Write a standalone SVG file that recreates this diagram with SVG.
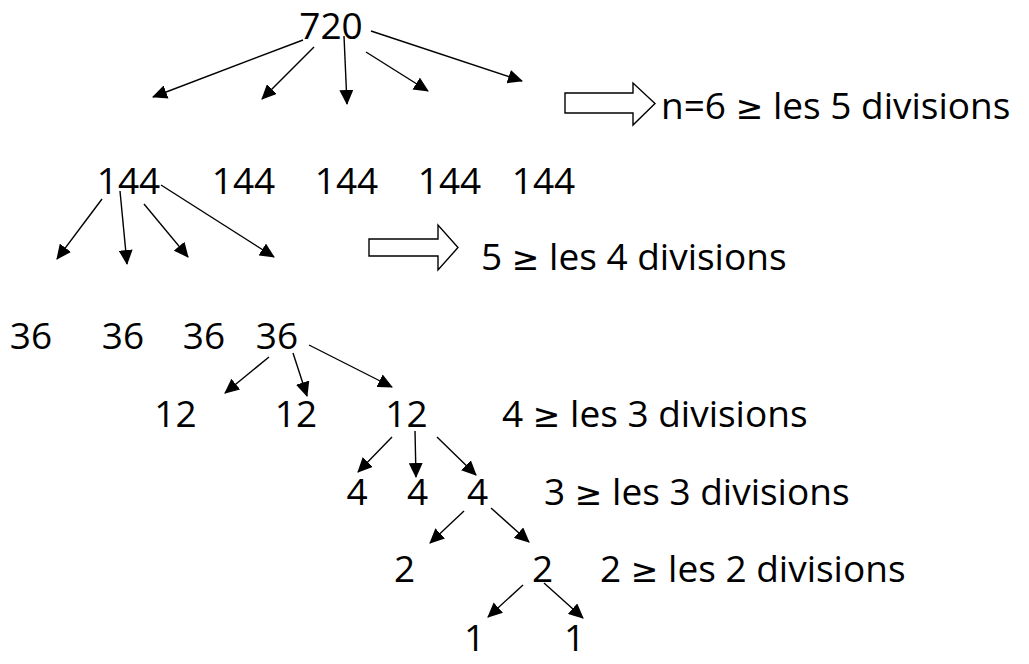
<svg xmlns="http://www.w3.org/2000/svg" width="1029" height="664" viewBox="0 0 1029 664">
<style>
text{font-family:"Open Sans","Noto Sans","Liberation Sans",sans-serif;font-size:37px;fill:#000}
.n{text-anchor:middle}
.ge{font-family:"DejaVu Sans","Noto Sans",sans-serif;font-size:33px}
.c line{stroke:#000;stroke-width:1.4;marker-end:url(#ah)}
.blk{fill:#fff;stroke:#000;stroke-width:1.4;stroke-linejoin:miter}
</style>
<defs>
<marker id="ah" markerUnits="userSpaceOnUse" markerWidth="15" markerHeight="14" refX="14" refY="7" orient="auto">
<path d="M0,0 L15,7 L0,14 z" fill="#000"/>
</marker>
</defs>
<rect width="1029" height="664" fill="#fff"/>
<g id="n720"><text class="n" x="331" y="39">720</text></g>
<g id="r144">
<text class="n" x="128.5" y="194">144</text>
<text class="n" x="243.5" y="194">144</text>
<text class="n" x="346.5" y="194">144</text>
<text class="n" x="449.5" y="194">144</text>
<text class="n" x="543.5" y="194">144</text>
</g>
<g id="r36">
<text class="n" x="31" y="349">36</text>
<text class="n" x="123" y="349">36</text>
<text class="n" x="204" y="349">36</text>
<text class="n" x="277" y="349">36</text>
</g>
<g id="r12">
<text class="n" x="175.5" y="427">12</text>
<text class="n" x="296" y="427">12</text>
<text class="n" x="406.5" y="427">12</text>
</g>
<g id="r4">
<text class="n" x="357" y="505">4</text>
<text class="n" x="417.5" y="505">4</text>
<text class="n" x="477.5" y="505">4</text>
</g>
<g id="r2">
<text class="n" x="404.5" y="582">2</text>
<text class="n" x="542.5" y="582">2</text>
</g>
<g id="r1">
<text class="n" x="474.5" y="651">1</text>
<text class="n" x="574.5" y="651">1</text>
</g>
<g id="labels">
<polygon class="blk" points="565,93 633,93 633,83 655,103.5 633,125 633,113 565,113"/>
<text x="661" y="119">n=6 <tspan class="ge">≥</tspan> les 5 divisions</text>
<polygon class="blk" points="369,239 438,239 438,225 458,247.5 438,270 438,256 369,256"/>
<text x="481" y="270">5 <tspan class="ge">≥</tspan> les 4 divisions</text>
<text x="502" y="427">4 <tspan class="ge">≥</tspan> les 3 divisions</text>
<text x="544" y="505">3 <tspan class="ge">≥</tspan> les 3 divisions</text>
<text x="600" y="582">2 <tspan class="ge">≥</tspan> les 2 divisions</text>
</g>
<g id="connectors" class="c">
<line x1="303" y1="40" x2="153" y2="97"/>
<line x1="314" y1="47" x2="262" y2="99"/>
<line x1="344" y1="36" x2="347" y2="104"/>
<line x1="366" y1="52" x2="428" y2="91"/>
<line x1="371" y1="31" x2="522" y2="81"/>
<line x1="102" y1="199" x2="57" y2="259"/>
<line x1="120" y1="191" x2="127" y2="264"/>
<line x1="144" y1="204" x2="188" y2="257"/>
<line x1="161" y1="185" x2="274" y2="257"/>
<line x1="269" y1="357" x2="225" y2="393"/>
<line x1="293" y1="353" x2="307" y2="396"/>
<line x1="309" y1="345" x2="392" y2="387"/>
<line x1="392" y1="437" x2="358" y2="472"/>
<line x1="415" y1="431" x2="416" y2="477"/>
<line x1="437" y1="437" x2="476" y2="475"/>
<line x1="464" y1="511" x2="430" y2="543"/>
<line x1="491" y1="508" x2="529" y2="542"/>
<line x1="523" y1="585" x2="488" y2="617"/>
<line x1="544" y1="583" x2="583" y2="618"/>
</g>
</svg>
